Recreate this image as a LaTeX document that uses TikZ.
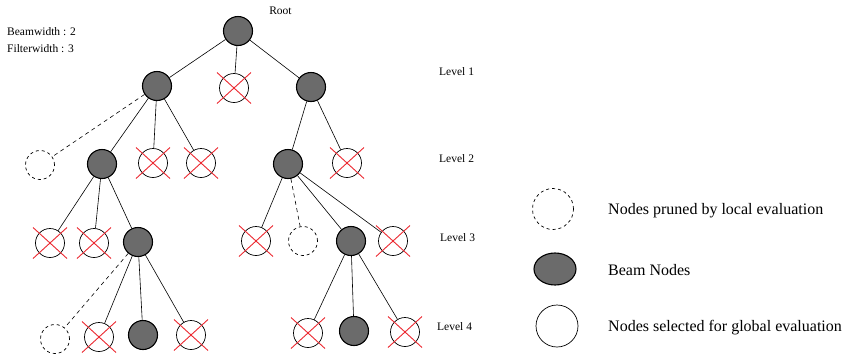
\documentclass[tikz,border=0pt]{standalone}
\usepackage{fontspec}
\setmainfont{Liberation Serif}
\usetikzlibrary{shapes.geometric}
\definecolor{xred}{RGB}{236,40,48}
\newcommand\mycross[1]{\draw[xred, line width=0.9pt] ([shift={(-17,-15.5)}]#1.center) -- ([shift={(17,15.5)}]#1.center) ([shift={(17,-15.5)}]#1.center) -- ([shift={(-17,15.5)}]#1.center);}
\begin{document}
\begin{tikzpicture}[x=1pt,y=-1pt,
  nd/.style={circle, draw, line width=0.7pt, minimum size=29pt, inner sep=0pt, fill=white},
  beam/.style={nd, fill=black!58, line width=1.1pt},
  pruned/.style={nd, dash pattern=on 3pt off 3pt},
  edge/.style={line width=0.6pt},
  dedge/.style={edge, dash pattern=on 4pt off 3.5pt},
  small/.style={font=\fontsize{11.5}{13}\selectfont, inner sep=0pt},
  legtext/.style={font=\fontsize{16}{18}\selectfont, inner sep=0pt, anchor=west}
]
\useasboundingbox (0,0) rectangle (844,354);
% nodes
\node[beam] (root) at (238,31) {};
\node[beam] (a1) at (157,86) {};
\node[nd] (a2) at (234,88) {};
\node[beam] (a3) at (311,87) {};
\node[pruned] (b1) at (40,165) {};
\node[beam] (b2) at (102,164) {};
\node[nd] (b3) at (153,163) {};
\node[nd] (b4) at (201,163) {};
\node[beam] (b5) at (288,164) {};
\node[nd] (b6) at (347,163) {};
\node[nd] (c1) at (50,243) {};
\node[nd] (c2) at (94,243) {};
\node[beam] (c3) at (138,242) {};
\node[nd] (c4) at (256,241) {};
\node[pruned] (c5) at (303,241) {};
\node[beam] (c6) at (351,241) {};
\node[nd] (c7) at (393,241) {};
\node[pruned] (d1) at (55,339) {};
\node[nd] (d2) at (99,337) {};
\node[beam] (d3) at (143,335) {};
\node[nd] (d4) at (191,335) {};
\node[nd] (d5) at (308,333) {};
\node[beam] (d6) at (354,331) {};
\node[nd] (d7) at (405,332) {};
% edges
\draw[edge] (root) -- (a1);
\draw[edge] (root) -- (a2);
\draw[edge] (root) -- (a3);
\draw[dedge] (a1) -- (b1);
\draw[edge] (a1) -- (b2);
\draw[edge] (a1) -- (b3);
\draw[edge] (a1) -- (b4);
\draw[edge] (a3) -- (b5);
\draw[edge] (a3) -- (b6);
\draw[edge] (b2) -- (c1);
\draw[edge] (b2) -- (c2);
\draw[edge] (b2) -- (c3);
\draw[edge] (b5) -- (c4);
\draw[dedge] (b5) -- (c5);
\draw[edge] (b5) -- (c6);
\draw[edge] (b5) -- (c7);
\draw[dedge] (c3) -- (d1);
\draw[edge] (c3) -- (d2);
\draw[edge] (c3) -- (d3);
\draw[edge] (c3) -- (d4);
\draw[edge] (c6) -- (d5);
\draw[edge] (c6) -- (d6);
\draw[edge] (c6) -- (d7);
% crosses
\foreach \n in {a2,b3,b4,b6,c1,c2,c4,c7,d2,d4,d5,d7} {\mycross{\n}}
% texts
\node[small] (troot) at (280.5,11) {Root};
\node[small, anchor=west] (tbeam) at (7,32) {Beamwidth : 2};
\node[small, anchor=west] (tfilt) at (7,49) {Filterwidth : 3};
\node[small, anchor=west] (l1) at (439,72) {Level 1};
\node[small, anchor=west] (l2) at (439,159) {Level 2};
\node[small, anchor=west] (l3) at (440,238) {Level 3};
\node[small, anchor=west] (l4) at (437,327) {Level 4};
% legend
\node[pruned, minimum size=41pt] (lp) at (553,209) {};
\node[ellipse, draw, line width=1.1pt, fill=black!58, minimum width=42pt, minimum height=32pt, inner sep=0pt] (lb) at (555,269) {};
\node[nd, minimum size=42pt] (ls) at (557,326) {};
\node[legtext] (tp) at (608,211) {Nodes pruned by local evaluation};
\node[legtext] (tb) at (608,270) {Beam Nodes};
\node[legtext] (ts) at (608,328) {Nodes selected for global evaluation};
\end{tikzpicture}
\end{document}
